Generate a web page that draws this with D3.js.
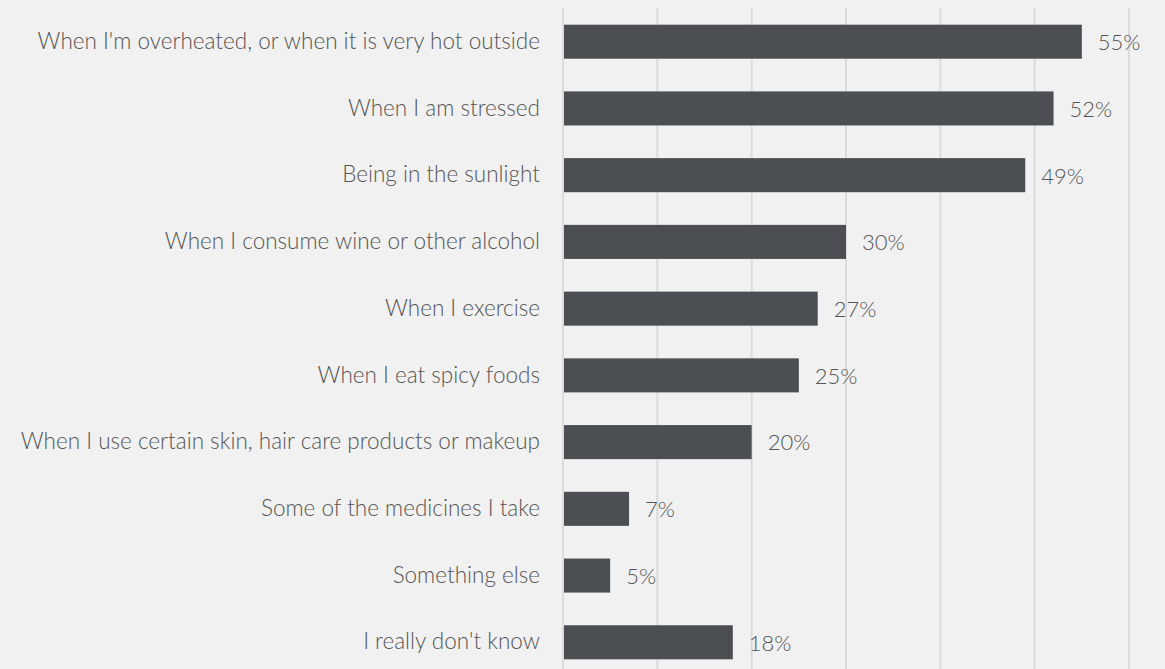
<!doctype html>
<html lang="en">
<head>
<meta charset="utf-8">
<title>Flushing triggers</title>
<script src="https://d3js.org/d3.v7.min.js"></script>
<style>
  html, body { margin: 0; padding: 0; background: #f1f1f1; }
  svg { display: block; }
  text { font-family: "Source Sans Pro", Lato, "Open Sans", sans-serif; font-weight: 300; fill: #555; }
</style>
</head>
<body>
<svg width="1165" height="669"></svg>
<script>
  var categories = [
    "When I'm overheated, or when it is very hot outside",
    "When I am stressed",
    "Being in the sunlight",
    "When I consume wine or other alcohol",
    "When I exercise",
    "When I eat spicy foods",
    "When I use certain skin, hair care products or makeup",
    "Some of the medicines I take",
    "Something else",
    "I really don't know"
  ];
  var values = [55, 52, 49, 30, 27, 25, 20, 7, 5, 18];
  var gridTicks = [0, 10, 20, 30, 40, 50, 60];

  var width = 1165, height = 669;
  var svg = d3.select("svg");

  var x = d3.scaleLinear().domain([0, 60]).range([563, 1129]);
  var y = d3.scaleBand().domain(categories).range([8, 676])
    .paddingInner(0.49).paddingOuter(0.25);

  // vertical gridlines
  svg.append("g").selectAll("line")
    .data(gridTicks)
    .enter().append("line")
    .attr("x1", function(d) { return x(d); })
    .attr("x2", function(d) { return x(d); })
    .attr("y1", 8)
    .attr("y2", height)
    .attr("stroke", "#dcdcdc")
    .attr("stroke-width", 2);

  svg.append("g").selectAll("rect")
    .data(values)
    .enter().append("rect")
    .attr("x", x(0) + 1)
    .attr("y", function(d, i) { return y(categories[i]); })
    .attr("width", function(d) { return x(d) - x(0) - 1; })
    .attr("height", y.bandwidth())
    .attr("fill", "#4b4e52");

  svg.append("g").selectAll("text")
    .data(values)
    .enter().append("text")
    .attr("x", function(d) { return x(d) + 16; })
    .attr("y", function(d, i) { return y(categories[i]) + y.bandwidth() / 2; })
    .attr("dy", "0.38em")
    .style("font-size", "22px")
    .text(function(d) { return d + "%"; });

  svg.append("g").selectAll("text")
    .data(categories)
    .enter().append("text")
    .attr("x", 540)
    .attr("y", function(d) { return y(d) + y.bandwidth() / 2; })
    .attr("dy", "0.32em")
    .attr("text-anchor", "end")
    .style("font-size", "22.5px")
    .text(function(d) { return d; });
</script>
</body>
</html>
